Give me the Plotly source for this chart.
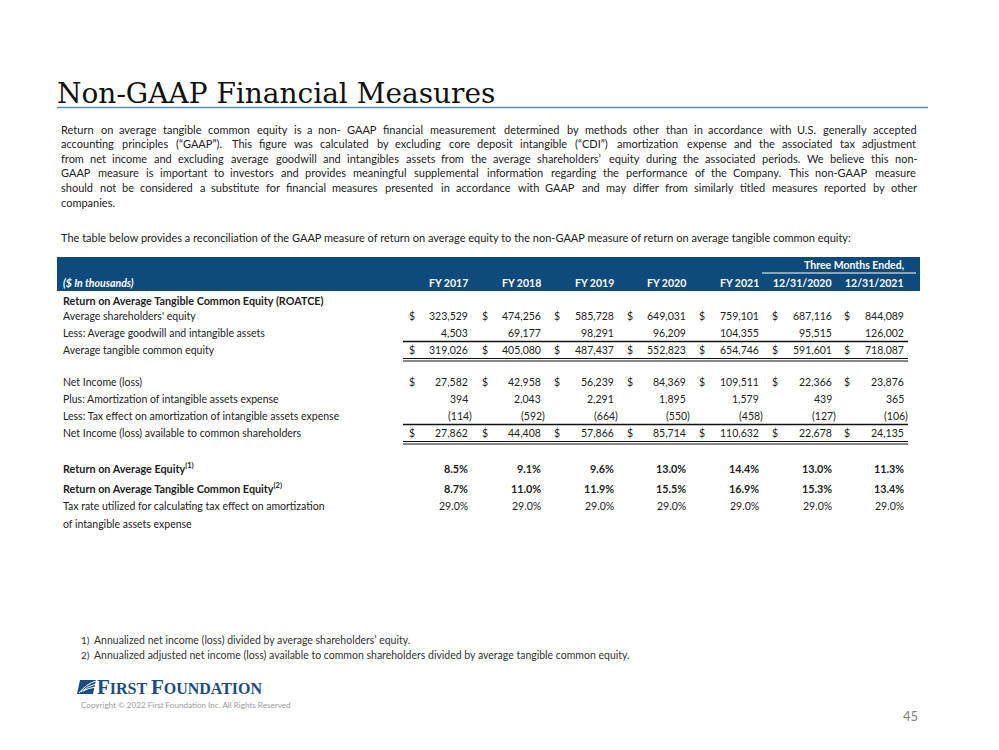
import plotly.graph_objects as go

# ---------------- data ----------------
title = "Non-GAAP Financial Measures"
paragraph_lines = [
    "Return on average tangible common equity is a non- GAAP financial measurement determined by methods other than in accordance with U.S. generally accepted",
    "accounting principles (\u201cGAAP\u201d).  This figure was calculated by excluding core deposit intangible (\u201cCDI\u201d) amortization expense and the associated tax adjustment",
    "from net income and excluding average goodwill and intangibles assets from the average shareholders\u2019 equity during the associated periods.  We believe this non-",
    "GAAP measure is important to investors and  provides meaningful supplemental information regarding the performance of the Company.  This non-GAAP measure",
    "should not be considered a substitute for financial measures presented in accordance with GAAP and may differ from similarly titled measures reported by other",
    "companies.",
]
intro_line = "The table below provides a reconciliation of the GAAP measure of return on average equity to the non-GAAP measure of return on average tangible common equity:"

columns = ["FY 2017", "FY 2018", "FY 2019", "FY 2020", "FY 2021", "12/31/2020", "12/31/2021"]
group_header = "Three Months Ended,"
unit_label = "($ In thousands)"

avg_equity = [323529, 474256, 585728, 649031, 759101, 687116, 844089]
goodwill = [4503, 69177, 98291, 96209, 104355, 95515, 126002]
tangible_equity = [319026, 405080, 487437, 552823, 654746, 591601, 718087]
net_income = [27582, 42958, 56239, 84369, 109511, 22366, 23876]
amortization = [394, 2043, 2291, 1895, 1579, 439, 365]
tax_effect = [-114, -592, -664, -550, -458, -127, -106]
adj_net_income = [27862, 44408, 57866, 85714, 110632, 22678, 24135]
roae = [8.5, 9.1, 9.6, 13.0, 14.4, 13.0, 11.3]
roatce = [8.7, 11.0, 11.9, 15.5, 16.9, 15.3, 13.4]
tax_rate = [29.0, 29.0, 29.0, 29.0, 29.0, 29.0, 29.0]

footnotes = [
    "Annualized net income (loss) divided by average shareholders\u2019 equity.",
    "Annualized adjusted net income (loss) available to common shareholders divided by average tangible common equity.",
]
copyright_text = "Copyright \u00a9 2022 First Foundation Inc. All Rights Reserved"
page_number = "45"

# ---------------- styles / layout ----------------
W, H = 999, 750
OFF = 8  # page body margin compensation
FONT = "Lato"
TXT = "#222222"
NAVY = "#0E4A7C"
TS = 10.5  # table font size
TSB = 10.8  # bold table font size

col_right = [469, 542, 615, 687, 760, 833, 905]
dollar_x = [408, 480.5, 553, 625.5, 698, 770.5, 843]
label_x = 62

fig = go.Figure()
ann = []
shapes = []


def text(x, y, s, size=TS, color=TXT, xanchor="left", family=FONT):
    ann.append(dict(x=x, y=y, xref="x", yref="y", text=s, showarrow=False,
                    xanchor=xanchor, yanchor="middle", borderpad=0,
                    font=dict(family=family, size=size, color=color)))


def hline(x0, x1, y, color="#111111", width=1):
    shapes.append(dict(type="line", xref="x", yref="y", x0=x0, x1=x1, y0=y, y1=y,
                       line=dict(color=color, width=width)))


# approximate Lato advance widths (em) for justification
CW = {}
CW.update(dict(zip("abcdefghijklmnopqrstuvwxyz",
                   [.49, .55, .45, .55, .51, .31, .49, .55, .23, .23, .49, .23, .82, .55, .54, .55, .55, .36, .41,
                    .34, .55, .49, .75, .48, .49, .44])))
CW.update(dict(zip("ABCDEFGHIJKLMNOPQRSTUVWXYZ",
                   [.68, .63, .67, .75, .56, .54, .73, .76, .28, .39, .66, .49, .92, .76, .80, .59, .80, .62, .53,
                    .60, .73, .68, 1.0, .65, .62, .61])))
CW.update({".": .21, ",": .21, "-": .34, "(": .30, ")": .30, "\u201c": .37, "\u201d": .37, "\u2019": .2,
           "'": .2, ":": .23, "/": .37, " ": .19})


def raw_width(s, size):
    return sum(CW.get(ch, .58) for ch in s) * size


# calibration: first paragraph line measured ~742px wide at 10.6px in Lato
CAL = 742.0 / raw_width(paragraph_lines[0], 10.6) * 1.02


def est_width(word, size):
    return raw_width(word, size) * CAL


def justified(x0, x1, y, line, size, color=TXT):
    words = line.split()
    if len(words) < 2:
        text(x0, y, line, size=size, color=color)
        return
    widths = [est_width(w, size) for w in words]
    gap = (x1 - x0 - sum(widths)) / (len(words) - 1)
    x = x0
    for w, wd in zip(words, widths):
        text(x, y, w, size=size, color=color)
        x += wd + gap


# Title + rule
text(56, 93, title, size=28, color="#111111", family="DejaVu Serif")
hline(57, 928, 107.5, color="#5B8AB5", width=1.5)

# Paragraph (justified)
PS = 11
for i, ln in enumerate(paragraph_lines):
    y = 129 + i * 14.6
    if i < len(paragraph_lines) - 1:
        justified(60, 917, y, ln, PS)
    else:
        text(60, y, ln, size=PS)
text(60, 237, intro_line, size=PS)

# Header band
shapes.append(dict(type="rect", xref="x", yref="y", x0=57, x1=920, y0=257, y1=291,
                   fillcolor=NAVY, line=dict(width=0), layer="below"))
text(col_right[-1], 265, "<b>" + group_header + "</b>", color="white", xanchor="right")
hline(762, 916, 273, color="white", width=1)
text(label_x, 283, "<b><i>" + unit_label + "</i></b>", color="white")
for c, lab in enumerate(columns):
    text(col_right[c], 283, "<b>" + lab + "</b>", color="white", xanchor="right")


def fmt_num(v):
    return f"({abs(v):,})" if v < 0 else f"{v:,}"


def money_row(y, label, values, dollars=False):
    text(label_x, y, label)
    for c, v in enumerate(values):
        xr = col_right[c] + (4 if v < 0 else 0)
        text(xr, y, fmt_num(v), xanchor="right")
        if dollars:
            text(dollar_x[c], y, "$", xanchor="left")


def pct_row(y, label, values, bold=False):
    if bold:
        text(label_x, y, "<b>" + label + "</b>", size=TSB)
    else:
        text(label_x, y, label)
    for c, v in enumerate(values):
        s = f"{v:.1f}%"
        if bold:
            text(col_right[c], y, "<b>" + s + "</b>", xanchor="right", size=TSB)
        else:
            text(col_right[c], y, s, xanchor="right")


text(label_x, 300, "<b>Return on Average Tangible Common Equity (ROATCE)</b>", size=TSB)
money_row(316, "Average shareholders' equity", avg_equity, dollars=True)
money_row(333, "Less: Average goodwill and intangible assets", goodwill)
money_row(350, "Average tangible common equity", tangible_equity, dollars=True)
hline(403, 908, 341.5, width=1.3)
hline(403, 908, 358.5, width=1)
hline(403, 908, 361, width=1)

money_row(382, "Net Income (loss)", net_income, dollars=True)
money_row(399, "Plus: Amortization of intangible assets expense", amortization)
money_row(416, "Less: Tax effect on amortization of intangible assets expense", tax_effect)
money_row(433, "Net Income (loss) available to common shareholders", adj_net_income, dollars=True)
hline(403, 908, 424.5, width=1.3)
hline(403, 908, 441.5, width=1)
hline(403, 908, 444, width=1)

pct_row(468, "Return on Average Equity<sup>(1)</sup>", roae, bold=True)
pct_row(488, "Return on Average Tangible Common Equity<sup>(2)</sup>", roatce, bold=True)
pct_row(506, "Tax rate utilized for calculating tax effect on amortization", tax_rate)
text(label_x, 524, "of intangible assets expense")

# Footnotes
for i, fn in enumerate(footnotes):
    y = 640 + i * 15
    text(80, y, f"{i + 1})", size=10, color="#333333")
    text(93, y, fn, size=10.5, color="#333333")

# Logo
shapes.append(dict(type="path", xref="x", yref="y",
                   path="M 80 680 L 96 680 L 93 694 L 77 694 Z",
                   fillcolor="#1B4C80", line=dict(width=0)))
for k in range(3):
    shapes.append(dict(type="path", xref="x", yref="y",
                       path=f"M {79 + k * 2} {693 - k * 1} Q {86 + k} {684 + k * 2} {96} {681 + k * 3}",
                       line=dict(color="white", width=1)))
text(96, 687, "<b><span style='font-size:21px'>F</span>IRST <span style='font-size:21px'>F</span>OUNDATION</b>",
     size=16, color="#1B4C80", family="Liberation Serif")
text(80, 705, copyright_text, size=8.1, color="#9A9A9A")
text(910, 716, page_number, size=13, color="#7F7F7F", xanchor="center")

fig.update_layout(
    width=W, height=H,
    margin=dict(l=0, r=0, t=0, b=0),
    paper_bgcolor="white", plot_bgcolor="white",
    xaxis=dict(range=[OFF, W + OFF], visible=False, fixedrange=True),
    yaxis=dict(range=[H + OFF, OFF], visible=False, fixedrange=True),
    annotations=ann, shapes=shapes, showlegend=False,
)

fig.write_html("out.html")
